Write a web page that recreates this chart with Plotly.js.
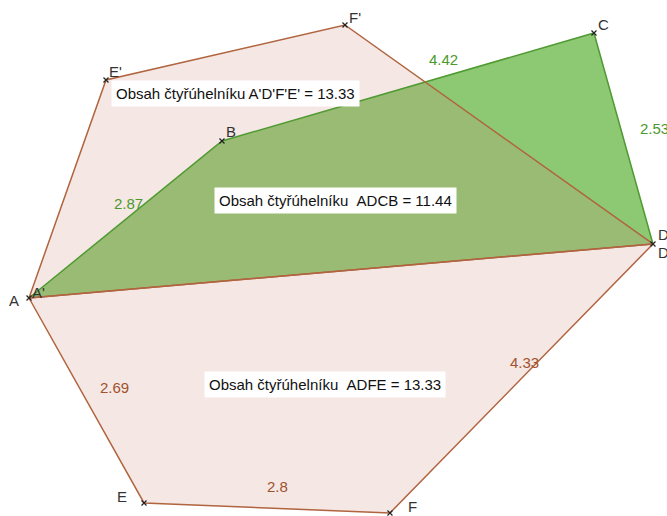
<!DOCTYPE html>
<html>
<head>
<meta charset="utf-8">
<script src="https://cdn.plot.ly/plotly-3.0.1.min.js"></script>
<style>html,body{margin:0;padding:0;background:#fff;}#chart{width:667px;height:516px;}</style>
</head>
<body>
<div id="chart"></div>
<script>
// Point coordinates (units)
const pointNames = ["A", "B", "C", "D", "E", "F", "E'", "F'"];
const pointX = [0.000, 2.218, 6.494, 7.172, 1.322, 4.149, 0.885, 3.632];
const pointY = [0.000, 1.805, 3.046, 0.621, -2.356, -2.471, 2.506, 3.138];

// Polygons (vertex names)
const polyADCB = ["A", "D", "C", "B"];
const polyADFE = ["A", "D", "F", "E"];
const polyADFE2 = ["A", "D", "F'", "E'"];

// Edge length labels
const lenText = ["4.42", "2.53", "2.87", "2.69", "2.8", "4.33"];
const lenX = [4.759, 7.00, 1.138, 0.977, 2.851, 5.690];
const lenY = [2.736, 1.954, 1.092, -1.023, -2.172, -0.736];
const lenGroup = ["g", "g", "g", "b", "b", "b"];

// Area texts
const areaText = ["Obsah čtyřúhelníku A'D'F'E' = 13.33",
                  "Obsah čtyřúhelníku\u00a0\u00a0ADCB = 11.44",
                  "Obsah čtyřúhelníku\u00a0\u00a0ADFE = 13.33"];
const areaX = [0.943, 2.126, 2.011];
const areaY = [2.345, 1.126, -0.989];

function P(n){const i=pointNames.indexOf(n);return [pointX[i],pointY[i]];}
function polyXY(names, close){
  const xs=[],ys=[];
  names.forEach(n=>{const p=P(n);xs.push(p[0]);ys.push(p[1]);});
  if(close){xs.push(xs[0]);ys.push(ys[0]);}
  return {x:xs,y:ys};
}

const green = '#8dc873';
const greenEdge = '#4f9a32';
const greenText = '#4a9a2a';
const brownEdge = '#b0643f';
const brownText = '#a0522d';
const pinkFill = 'rgba(205,135,115,0.2)';
const font = 'Liberation Sans, Arial, sans-serif';

const traces = [];
const g = polyXY(polyADCB, true);
traces.push({x:g.x,y:g.y,mode:'lines',fill:'toself',fillcolor:green,line:{width:0},hoverinfo:'skip'});
[polyADFE, polyADFE2].forEach(pg=>{
  const p = polyXY(pg, true);
  traces.push({x:p.x,y:p.y,mode:'lines',fill:'toself',fillcolor:pinkFill,line:{width:0},hoverinfo:'skip'});
});
// green edges (A-B-C-D)
const ge = polyXY(["A","B","C","D"], false);
traces.push({x:ge.x,y:ge.y,mode:'lines',line:{color:greenEdge,width:1.5},hoverinfo:'skip'});
// brown edges
[polyADFE, polyADFE2].forEach(pg=>{
  const p = polyXY(pg, true);
  traces.push({x:p.x,y:p.y,mode:'lines',line:{color:brownEdge,width:1.5},hoverinfo:'skip'});
});
// point markers
traces.push({x:pointX,y:pointY,mode:'markers',marker:{symbol:'x-thin',size:5,line:{color:'#222',width:1.2}},hoverinfo:'skip'});

// point labels
const labelShift = {
  "A":[-15,-2,'center'], "B":[9,9,'center'], "C":[10,9,'center'],
  "D":[3,9,'left'], "E":[-22,6,'center'], "F":[23,6,'center'],
  "E'":[10,8,'center'], "F'":[10,8,'center']
};
const annotations = [];
pointNames.forEach((n,i)=>{
  const s = labelShift[n];
  annotations.push({x:pointX[i],y:pointY[i],text:n,showarrow:false,xshift:s[0],yshift:s[1],xanchor:s[2],yanchor:'middle',font:{family:font,size:15,color:'#333'}});
});
// extra labels A', D'
annotations.push({x:P("A")[0],y:P("A")[1],text:"A'",showarrow:false,xshift:9,yshift:6,xanchor:'center',yanchor:'middle',font:{family:font,size:15,color:'#333'}});
annotations.push({x:P("D")[0],y:P("D")[1],text:"D'",showarrow:false,xshift:3,yshift:-9,xanchor:'left',yanchor:'middle',font:{family:font,size:15,color:'#333'}});
// length labels
lenText.forEach((t,i)=>{
  annotations.push({x:lenX[i],y:lenY[i],text:t,showarrow:false,xanchor:i===1?'left':'center',yanchor:'middle',font:{family:font,size:15,color:lenGroup[i]==='g'?greenText:brownText}});
});
// area labels
areaText.forEach((t,i)=>{
  annotations.push({x:areaX[i],y:areaY[i],text:t,showarrow:false,xanchor:'left',yanchor:'middle',bgcolor:'#ffffff',borderpad:4,font:{family:font,size:15,color:'#111'}});
});

const layout = {
  width:667,height:516,margin:{l:0,r:0,t:0,b:0},
  paper_bgcolor:'#fff',plot_bgcolor:'#fff',showlegend:false,
  xaxis:{range:[-0.3333,7.3333],visible:false,fixedrange:true},
  yaxis:{range:[-2.5057,3.4253],visible:false,fixedrange:true},
  annotations:annotations
};
Plotly.newPlot('chart',traces,layout,{staticPlot:true,displayModeBar:false});
</script>
</body>
</html>
